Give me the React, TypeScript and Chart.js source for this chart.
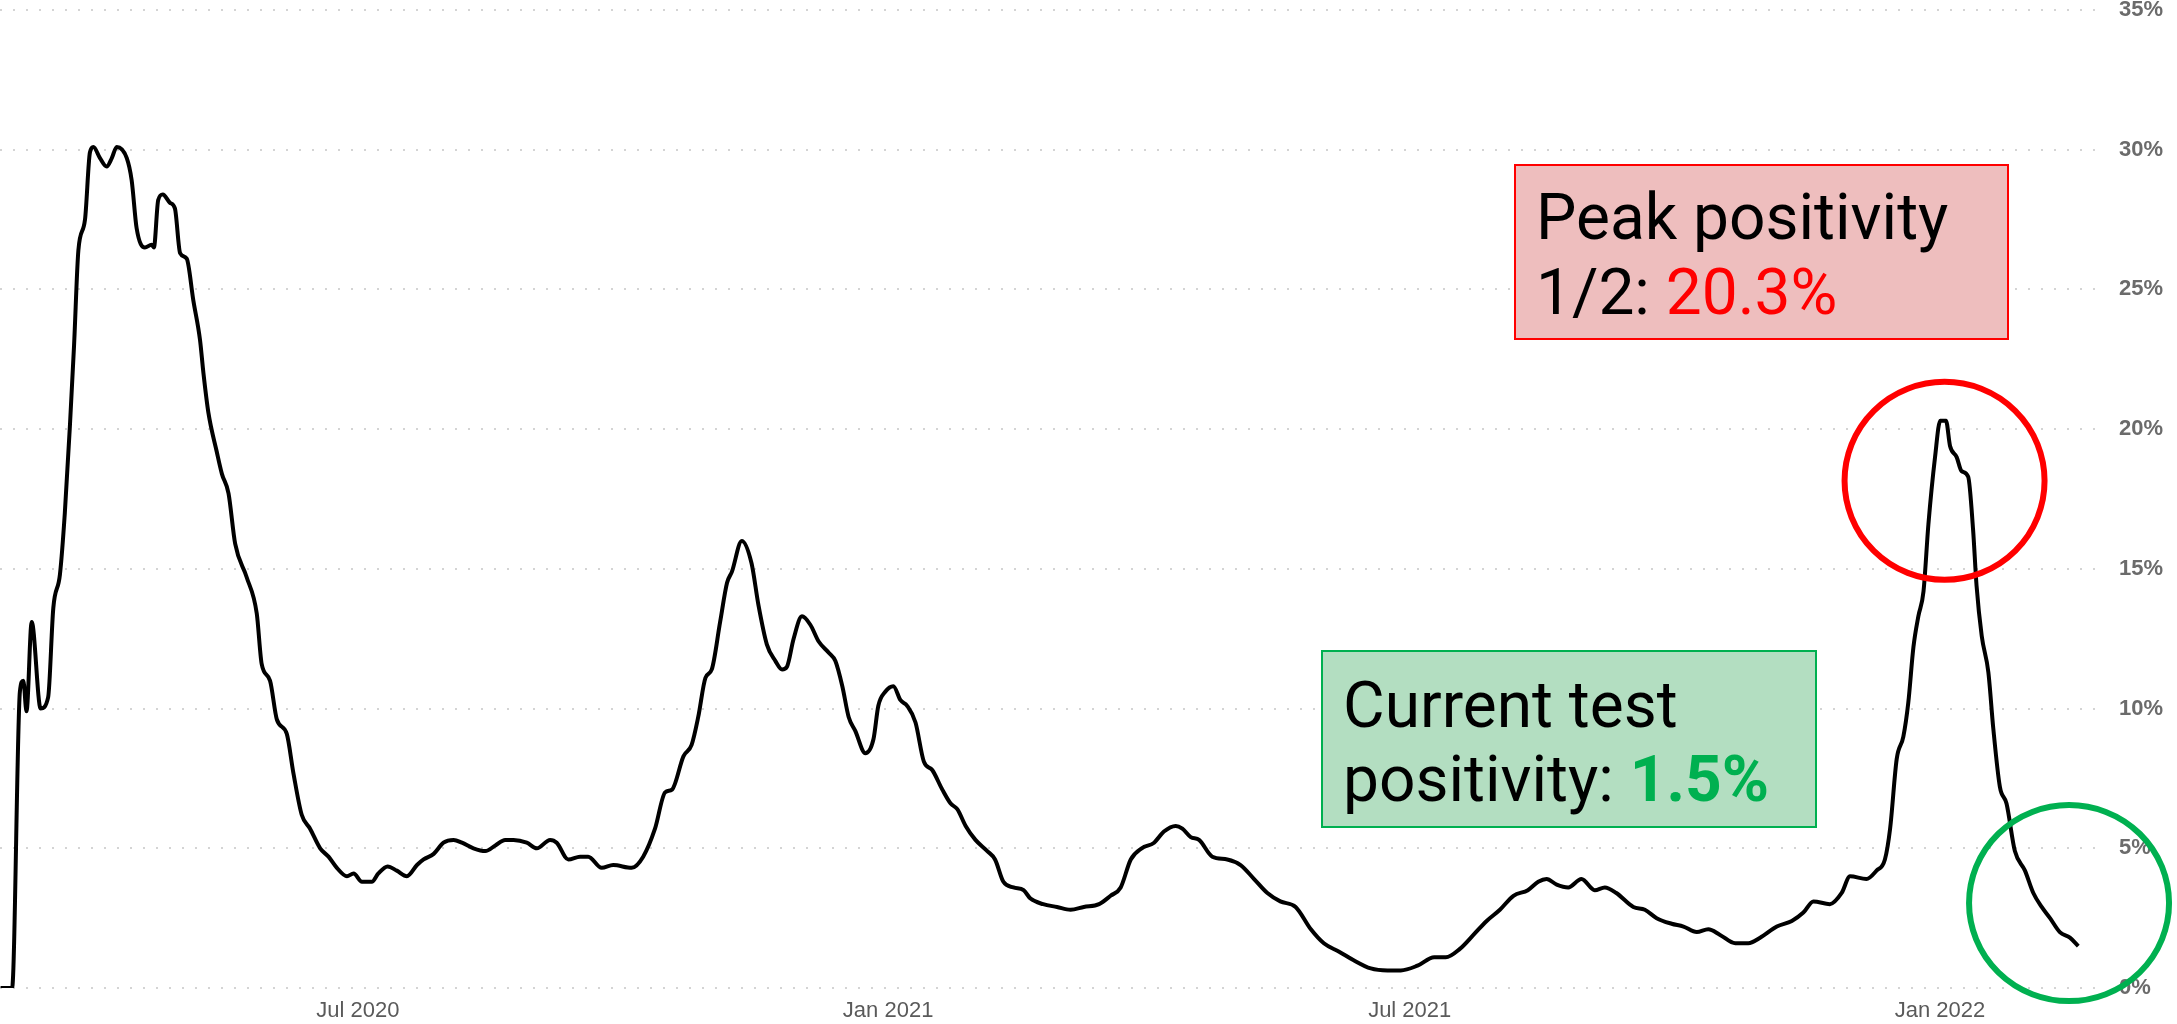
import React, { useEffect, useRef } from "react";
import { Chart, registerables } from "chart.js";

Chart.register(...registerables);

// Days counted from this date
const START_DATE = "2020-03-01";

const dayOffsets = [
  -2, 2, 4.7, 5.9, 7.0, 8.8, 11.9, 14.5, 16.3, 18.6, 20.3, 22.1, 23.5, 25.0, 27.3, 29.0, 30.2, 32.5, 34.8, 36.6,
  38.3, 41.8, 43.5, 45.2, 48.1, 50.4, 51.2, 52.7, 54.3, 56.8, 58.5, 60.3, 62.6, 64.9, 67.2, 68.4, 70.1, 73.0,
  74.8, 77.1, 79.4, 83.4, 86.9, 88.6, 91.5, 93.9, 97.3, 99.6, 102.5, 105.4, 108.9, 111.8, 114.7, 118.2, 120.5,
  123.4, 126.8, 129.1, 132.3, 135.5, 139.0, 142.5, 144.8, 148.3, 151.7, 155.2, 158.1, 162.1, 166.2, 169.7,
  173.1, 176.0, 180.6, 184.1, 188.7, 191.0, 195.0, 199.1, 201.9, 206.6, 210.6, 217.0, 221.0, 225.1, 228.6,
  231.0, 235.0, 237.8, 240.1, 242.6, 244.8, 247.7, 250.1, 251.8, 255.2, 258.6, 261.0, 263.9, 266.9, 269.2,
  270.9, 273.2, 276.1, 279.0, 281.9, 285.4, 287.7, 290.1, 292.3, 294.6, 298.1, 300.9, 302.6, 305.0, 307.8,
  310.3, 312.6, 315.5, 318.4, 321.3, 324.8, 327.7, 330.0, 332.9, 336.3, 340.4, 343.1, 346.0, 349.5, 353.0,
  355.4, 359.8, 364.6, 369.3, 373.9, 379.2, 383.2, 386.7, 390.2, 394.0, 398.3, 401.7, 405.8, 408.1, 411.0,
  413.9, 418.5, 423.7, 428.3, 433.0, 437.6, 442.1, 447.4, 452.7, 457.2, 462.5, 467.4, 473.5, 479.3, 483.9,
  489.7, 495.5, 499.5, 504.4, 509.1, 513.7, 518.3, 523.0, 528.0, 531.6, 534.5, 538.0, 542.0, 546.6, 551.2,
  554.7, 558.7, 564.6, 568.6, 572.7, 577.9, 582.0, 586.6, 590.6, 594.7, 600.0, 604.5, 608.6, 614.4, 619.6,
  623.6, 627.1, 632.8, 636.9, 639.8, 645.5, 649.0, 651.9, 653.7, 656.0, 658.3, 660.0, 661.8, 663.5, 665.3,
  667.0, 669.3, 671.1, 673.1, 674.5, 676.8, 678.5, 680.8, 682.5, 683.7, 685.5, 687.8, 689.5, 691.8, 694.1,
  697.0, 700.5, 703.4, 706.3, 709.2, 712.6, 716.1, 719.0,
];

// Test positivity (%) at those days
const positivity = [
  0, 0, 10.6, 11.0, 9.9, 13.1, 10.0, 10.4, 13.6, 14.8, 17.0, 20.2, 23.0, 26.4, 27.5, 29.9, 30.1, 29.7, 29.4, 29.7,
  30.1, 29.7, 28.9, 27.2, 26.5, 26.6, 26.5, 28.2, 28.4, 28.1, 27.9, 26.3, 26.1, 24.6, 23.2, 22.0, 20.6, 19.2,
  18.4, 17.7, 15.9, 14.7, 13.4, 11.6, 11.0, 9.6, 9.1, 7.7, 6.2, 5.7, 5.0, 4.7, 4.3, 4.0, 4.1,
  3.8, 3.8, 4.1, 4.35, 4.2, 4.0, 4.4, 4.6, 4.8, 5.2, 5.3, 5.2, 5.0, 4.9, 5.1,
  5.3, 5.3, 5.2, 5.0, 5.3, 5.2, 4.6, 4.7, 4.7, 4.3, 4.4, 4.3, 4.7, 5.7, 7.0,
  7.1, 8.3, 8.7, 9.7, 11.1, 11.4, 13.1, 14.5, 14.9, 16.0, 15.2, 13.7, 12.3, 11.7, 11.4,
  11.5, 12.5, 13.3, 13.0, 12.4, 12.0, 11.7, 10.8, 9.7, 9.2, 8.4, 8.9, 10.1, 10.6, 10.8,
  10.3, 10.1, 9.5, 8.1, 7.8, 7.1, 6.6, 6.4, 5.8, 5.3, 4.9, 4.6, 3.8, 3.6, 3.5,
  3.2, 3.0, 2.9, 2.8, 2.9, 3.0, 3.3, 3.6, 4.6, 5.0, 5.2, 5.6, 5.8, 5.7, 5.4,
  5.3, 4.7, 4.6, 4.4, 3.9, 3.4, 3.1, 2.9, 2.1, 1.6, 1.3, 1.0, 0.7, 0.63, 0.63,
  0.8, 1.1, 1.1, 1.4, 1.9, 2.4, 2.8, 3.3, 3.5, 3.8, 3.9, 3.7, 3.6, 3.9, 3.5,
  3.6, 3.4, 2.9, 2.8, 2.5, 2.3, 2.2, 2.0, 2.1, 1.9, 1.6, 1.6, 1.8, 2.2, 2.4,
  2.7, 3.1, 3.0, 3.4, 4.0, 3.9, 4.2, 4.6, 5.7, 8.2, 9.0, 10.2, 12.2, 13.3, 14.2,
  16.6, 19.0, 20.3, 20.3, 19.4, 19.0, 18.5, 18.3, 16.4, 14.4, 12.6, 11.3, 9.3, 7.2, 6.6,
  4.9, 4.2, 3.4, 2.9, 2.5, 2.0, 1.8, 1.5,
];

const tickDates = ["2020-07-01", "2021-01-01", "2021-07-01", "2022-01-01"];
const tickLabels = ["Jul 2020", "Jan 2021", "Jul 2021", "Jan 2022"];
const yTickStep = 5;
const yMax = 35;

const peakLines = [
  [{ text: "Peak positivity", color: "#000000", bold: false }],
  [
    { text: "1/2: ", color: "#000000", bold: false },
    { text: "20.3%", color: "#FF0000", bold: false },
  ],
];
const currentLines = [
  [{ text: "Current test", color: "#000000", bold: false }],
  [
    { text: "positivity: ", color: "#000000", bold: false },
    { text: "1.5%", color: "#00B050", bold: true },
  ],
];

const dayOf = (iso: string) =>
  Math.round((Date.parse(iso) - Date.parse(START_DATE)) / 86400000);
const tickDays = tickDates.map(dayOf);

const annotationPlugin = {
  id: "calloutAnnotations",
  afterDraw(chart: any) {
    const { ctx } = chart;
    const xs = chart.scales.x;
    const ys = chart.scales.y;
    ctx.save();
    const circles = [
      { day: 672.6, value: 18.15, rx: 100, ry: 99, color: "#FF0000" },
      { day: 715.8, value: 3.04, rx: 100, ry: 98, color: "#00B050" },
    ];
    circles.forEach((c) => {
      ctx.beginPath();
      ctx.ellipse(xs.getPixelForValue(c.day), ys.getPixelForValue(c.value), c.rx, c.ry, 0, 0, Math.PI * 2);
      ctx.lineWidth = 6;
      ctx.strokeStyle = c.color;
      ctx.stroke();
    });
    const boxes = [
      { day: 523.5, value: 29.46, w: 493, h: 174, fill: "#EEBEBE", border: "#FF0000", lines: peakLines, base: [74, 149] },
      { day: 456.5, value: 12.06, w: 494, h: 176, fill: "#B3DEC1", border: "#00B050", lines: currentLines, base: [76, 150] },
    ];
    boxes.forEach((b) => {
      const bx = Math.round(xs.getPixelForValue(b.day));
      const by = Math.round(ys.getPixelForValue(b.value));
      ctx.fillStyle = b.fill;
      ctx.fillRect(bx, by, b.w, b.h);
      ctx.lineWidth = 2;
      ctx.strokeStyle = b.border;
      ctx.strokeRect(bx, by, b.w, b.h);
      ctx.textAlign = "left";
      ctx.textBaseline = "alphabetic";
      b.lines.forEach((segs: any[], i: number) => {
        let tx = bx + 21;
        const ty = by + b.base[i];
        segs.forEach((s) => {
          ctx.font = `${s.bold ? "bold " : ""}64px Roboto`;
          ctx.fillStyle = s.color;
          ctx.fillText(s.text, tx, ty);
          tx += ctx.measureText(s.text).width;
        });
      });
    });
    ctx.restore();
  },
};

export default function App() {
  const canvasRef = useRef<HTMLCanvasElement | null>(null);

  useEffect(() => {
    document.body.style.margin = "0";
    const canvas = canvasRef.current;
    if (!canvas) return;
    const points = dayOffsets.map((d, i) => ({ x: d, y: positivity[i] }));
    const chart = new Chart(canvas, {
      type: "line",
      data: {
        datasets: [
          {
            data: points,
            borderColor: "#000000",
            borderWidth: 4,
            pointRadius: 0,
            cubicInterpolationMode: "monotone",
            fill: false,
          },
        ],
      },
      options: {
        animation: false,
        responsive: false,
        devicePixelRatio: 1,
        layout: { padding: { top: 10, left: 0, right: 0, bottom: 0 } },
        plugins: { legend: { display: false }, tooltip: { enabled: false } },
        scales: {
          x: {
            type: "linear",
            min: -2.2,
            max: 725.5,
            grid: { display: false, drawTicks: false },
            border: { display: false },
            afterBuildTicks: (scale: any) => {
              scale.ticks = tickDays.map((v) => ({ value: v }));
            },
            afterFit: (scale: any) => {
              scale.height = 36;
              scale.paddingLeft = 0;
              scale.paddingRight = 0;
            },
            ticks: {
              autoSkip: false,
              maxRotation: 0,
              padding: 10,
              color: "#5a5a5a",
              font: { family: "'Liberation Sans', Arial, sans-serif", size: 22 },
              callback: (v: any) => {
                const i = tickDays.indexOf(Number(v));
                return i >= 0 ? tickLabels[i] : "";
              },
            },
          },
          y: {
            position: "right",
            min: 0,
            max: yMax,
            grid: {
              drawTicks: false,
              color: "#d4d4d4",
              lineWidth: 2,
            },
            border: { display: false, dash: [2, 11] },
            afterFit: (scale: any) => {
              scale.width = 80;
              scale.paddingTop = 0;
              scale.paddingBottom = 0;
            },
            ticks: {
              stepSize: yTickStep,
              padding: 22,
              color: "#6b6b6b",
              font: { family: "'Liberation Sans', Arial, sans-serif", size: 22, weight: "bold" },
              callback: (v: any) => `${v}%`,
            },
          },
        },
      },
      plugins: [annotationPlugin],
    } as any);
    return () => chart.destroy();
  }, []);

  return (
    <div style={{ width: 2177, height: 1024, overflow: "hidden", background: "#ffffff" }}>
      <canvas ref={canvasRef} width={2177} height={1024} style={{ display: "block" }} />
    </div>
  );
}
